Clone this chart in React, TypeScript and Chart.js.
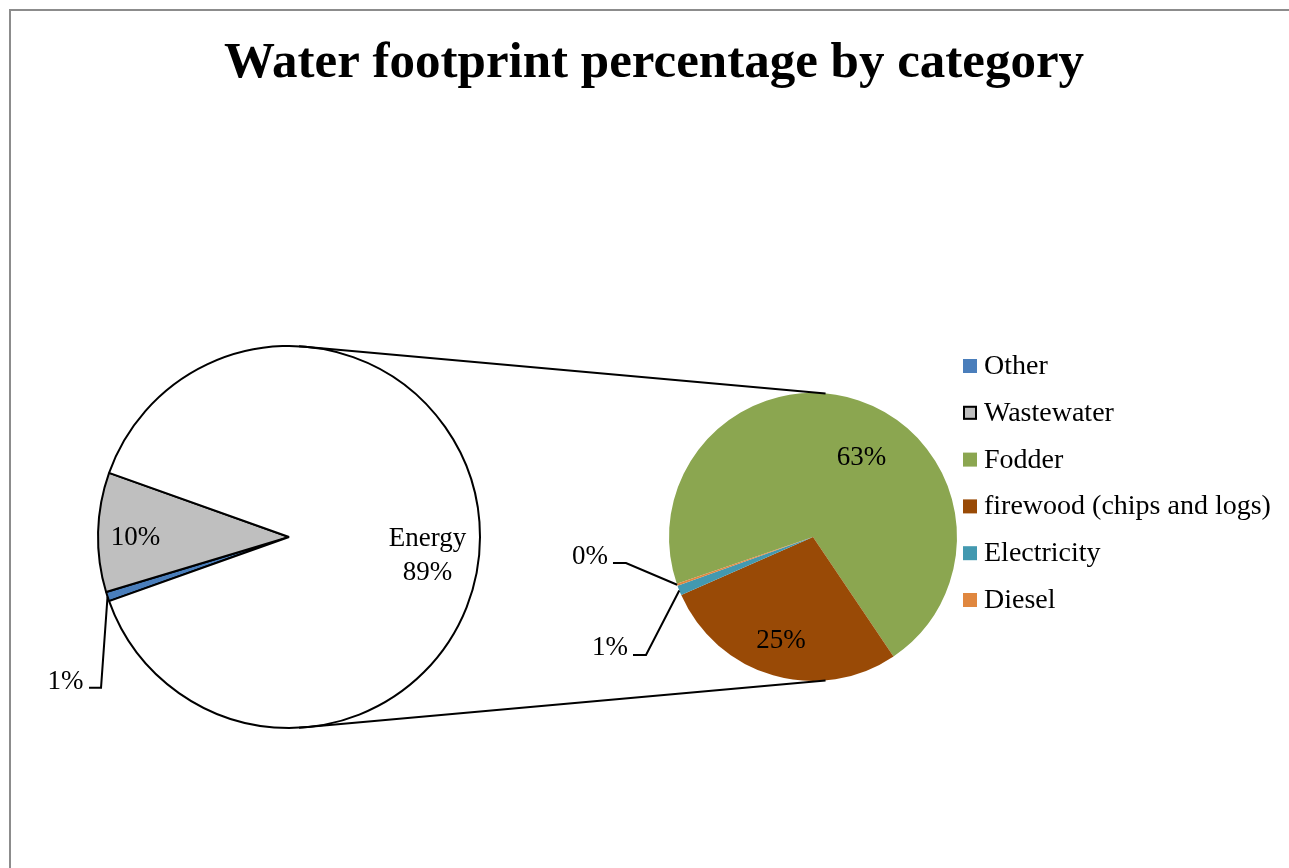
import React, { useEffect, useRef } from "react";
import { Chart, registerables } from "chart.js";

Chart.register(...registerables);

const W = 1289;
const H = 868;

// Water footprint shares (%), main split and the energy breakdown
const mainLabels = ["Other", "Wastewater"];
const mainValues = [0.8, 10.1];
const energyLabel = "Energy";
const energyLabels = ["Fodder", "firewood (chips and logs)", "Electricity", "Diesel"];
const energyValues = [63.1, 24.8, 1.0, 0.2];

const mainColors = ["#4A7EBB", "#BFBFBF"];
const energyColor = "#FFFFFF";
const energyColors = ["#8BA650", "#994A06", "#4399B0", "#E0873F"];

const FONT = '"Liberation Serif", "Times New Roman", serif';
const TITLE = "Water footprint percentage by category";

const MAIN = { cx: 289, cy: 537, r: 191 };
const SUB = { cx: 813, cy: 537, r: 144 };

const energyTotal = energyValues.reduce((a, b) => a + b, 0);
const grandTotal = mainValues.reduce((a, b) => a + b, 0) + energyTotal;
const pct = (v: number) => `${Math.round((v / grandTotal) * 100)}%`;

function paddingFor(p: { cx: number; cy: number; r: number }) {
  return { left: p.cx - p.r, right: W - p.cx - p.r, top: p.cy - p.r, bottom: H - p.cy - p.r };
}

function arcPoint(arc: any, frac: number, r?: number) {
  const a = arc.startAngle + (arc.endAngle - arc.startAngle) * frac;
  const rr = r ?? arc.outerRadius;
  return { x: arc.x + Math.cos(a) * rr, y: arc.y + Math.sin(a) * rr };
}

function drawLeader(ctx: CanvasRenderingContext2D, pts: { x: number; y: number }[]) {
  ctx.save();
  ctx.strokeStyle = "#000";
  ctx.lineWidth = 2;
  ctx.lineJoin = "miter";
  ctx.beginPath();
  ctx.moveTo(pts[0].x, pts[0].y);
  for (let i = 1; i < pts.length; i++) ctx.lineTo(pts[i].x, pts[i].y);
  ctx.stroke();
  ctx.restore();
}

function text(ctx: CanvasRenderingContext2D, s: string, x: number, y: number, size = 27) {
  ctx.save();
  ctx.font = `${size}px ${FONT}`;
  ctx.fillStyle = "#000";
  ctx.textAlign = "center";
  ctx.textBaseline = "alphabetic";
  ctx.fillText(s, x, y);
  ctx.restore();
}

const mainLabelsPlugin = {
  id: "mainLabels",
  afterDatasetsDraw(chart: any) {
    const ctx: CanvasRenderingContext2D = chart.ctx;
    const arcs = chart.getDatasetMeta(0).data;
    const data = chart.data.datasets[0].data as number[];
    const { x: cx, y: cy } = arcs[0];
    const r = arcs[0].outerRadius;

    // Title
    ctx.save();
    ctx.font = `bold 51px ${FONT}`;
    ctx.fillStyle = "#000";
    ctx.textAlign = "center";
    ctx.textBaseline = "alphabetic";
    ctx.fillText(TITLE, 654, 77);
    ctx.restore();

    // Wastewater, inside its slice
    text(ctx, pct(data[1]), cx - 0.804 * r, cy + 0.04 * r);
    // Energy, inside the large slice
    text(ctx, energyLabel, cx + 0.725 * r, cy + 0.047 * r);
    text(ctx, pct(data[2]), cx + 0.725 * r, cy + 0.225 * r);
    // Other, outside with a leader line
    const tip = arcPoint(arcs[0], 0.5);
    const lx = cx - 1.047 * r;
    const ly = cy + 0.794 * r;
    text(ctx, pct(data[0]), lx - 23.5, ly);
    drawLeader(ctx, [
      { x: lx, y: ly - 1 },
      { x: lx + 12, y: ly - 1 },
      tip,
    ]);
  },
};

const subLabelsPlugin = {
  id: "subLabels",
  afterDatasetsDraw(chart: any, _args: any, opts: any) {
    const ctx: CanvasRenderingContext2D = chart.ctx;
    const arcs = chart.getDatasetMeta(0).data;
    const data = chart.data.datasets[0].data as number[];
    const { x: cx, y: cy } = arcs[0];
    const r = arcs[0].outerRadius;

    text(ctx, pct(data[0]), cx + 0.337 * r, cy - 0.5 * r);
    text(ctx, pct(data[1]), cx - 0.222 * r, cy + 0.77 * r);

    // Diesel
    const dTip = arcPoint(arcs[3], 0.5);
    const dx = cx - 1.389 * r;
    const dy = cy + 0.188 * r;
    text(ctx, pct(data[3]), dx - 23, dy);
    drawLeader(ctx, [
      { x: dx, y: dy - 1 },
      { x: dx + 13, y: dy - 1 },
      dTip,
    ]);
    // Electricity
    const eTip = arcPoint(arcs[2], 0.5);
    const ex = cx - 1.25 * r;
    const ey = cy + 0.819 * r;
    text(ctx, pct(data[2]), ex - 23, ey);
    drawLeader(ctx, [
      { x: ex, y: ey },
      { x: ex + 13, y: ey },
      eTip,
    ]);

    // Connector lines between the two pies
    const main = opts.getMain && opts.getMain();
    if (main) {
      const ma = main.getDatasetMeta(0).data[0];
      const mx = ma.x;
      const my = ma.y;
      const mr = ma.outerRadius;
      const t1 = (-87 * Math.PI) / 180;
      const t2 = (-85 * Math.PI) / 180;
      ctx.save();
      ctx.strokeStyle = "#000";
      ctx.lineWidth = 2;
      ctx.beginPath();
      ctx.moveTo(mx + Math.cos(t1) * mr, my + Math.sin(t1) * mr);
      ctx.lineTo(cx + Math.cos(t2) * r, cy + Math.sin(t2) * r);
      ctx.moveTo(mx + Math.cos(-t1) * mr, my + Math.sin(-t1) * mr);
      ctx.lineTo(cx + Math.cos(-t2) * r, cy + Math.sin(-t2) * r);
      ctx.stroke();
      ctx.restore();
    }

    // Legend
    const items = [
      ...mainLabels.map((l, i) => ({ label: l, color: mainColors[i], outline: i === 1 })),
      ...energyLabels.map((l, i) => ({ label: l, color: energyColors[i], outline: false })),
    ];
    ctx.save();
    ctx.font = `28px ${FONT}`;
    ctx.textAlign = "left";
    ctx.textBaseline = "alphabetic";
    items.forEach((it, i) => {
      const base = 374 + i * 46.8;
      ctx.fillStyle = it.color;
      ctx.fillRect(963, base - 15, 14, 14);
      if (it.outline) {
        ctx.strokeStyle = "#000";
        ctx.lineWidth = 2;
        ctx.strokeRect(964, base - 14, 12, 12);
      }
      ctx.fillStyle = "#000";
      ctx.fillText(it.label, 984, base);
    });
    ctx.restore();
  },
};

export default function App() {
  const mainRef = useRef<HTMLCanvasElement>(null);
  const subRef = useRef<HTMLCanvasElement>(null);

  useEffect(() => {
    if (!mainRef.current || !subRef.current) return;
    const energyShare = energyTotal / grandTotal;
    const mainChart = new Chart(mainRef.current, {
      type: "pie",
      data: {
        labels: [...mainLabels, energyLabel],
        datasets: [
          {
            data: [...mainValues, energyTotal],
            backgroundColor: [...mainColors, energyColor],
            borderColor: "#000",
            borderWidth: 2,
          },
        ],
      },
      options: {
        responsive: false,
        animation: false,
        events: [],
        radius: MAIN.r,
        // energy slice centred on the right, facing the breakdown pie
        rotation: energyShare * 180 + 90,
        layout: { padding: paddingFor(MAIN) },
        plugins: { legend: { display: false }, tooltip: { enabled: false }, title: { display: false } },
      } as any,
      plugins: [mainLabelsPlugin],
    });

    const fodderShare = energyValues[0] / energyTotal;
    const subChart = new Chart(subRef.current, {
      type: "pie",
      data: {
        labels: energyLabels,
        datasets: [
          {
            data: energyValues,
            backgroundColor: energyColors,
            borderWidth: 0,
          },
        ],
      },
      options: {
        responsive: false,
        animation: false,
        events: [],
        radius: SUB.r,
        rotation: 56 - fodderShare * 360 + 90,
        layout: { padding: paddingFor(SUB) },
        plugins: {
          legend: { display: false },
          tooltip: { enabled: false },
          title: { display: false },
          subLabels: { getMain: () => mainChart },
        },
      } as any,
      plugins: [subLabelsPlugin],
    });

    return () => {
      subChart.destroy();
      mainChart.destroy();
    };
  }, []);

  return (
    <div style={{ position: "fixed", left: 0, top: 0, width: W, height: H, background: "#fff", overflow: "hidden" }}>
      <div
        style={{
          position: "absolute",
          left: 9,
          top: 9,
          width: W + 20,
          height: H + 20,
          border: "2px solid #8c8c8c",
          boxSizing: "border-box",
        }}
      />
      <canvas ref={mainRef} width={W} height={H} style={{ position: "absolute", left: 0, top: 0 }} />
      <canvas ref={subRef} width={W} height={H} style={{ position: "absolute", left: 0, top: 0 }} />
    </div>
  );
}
